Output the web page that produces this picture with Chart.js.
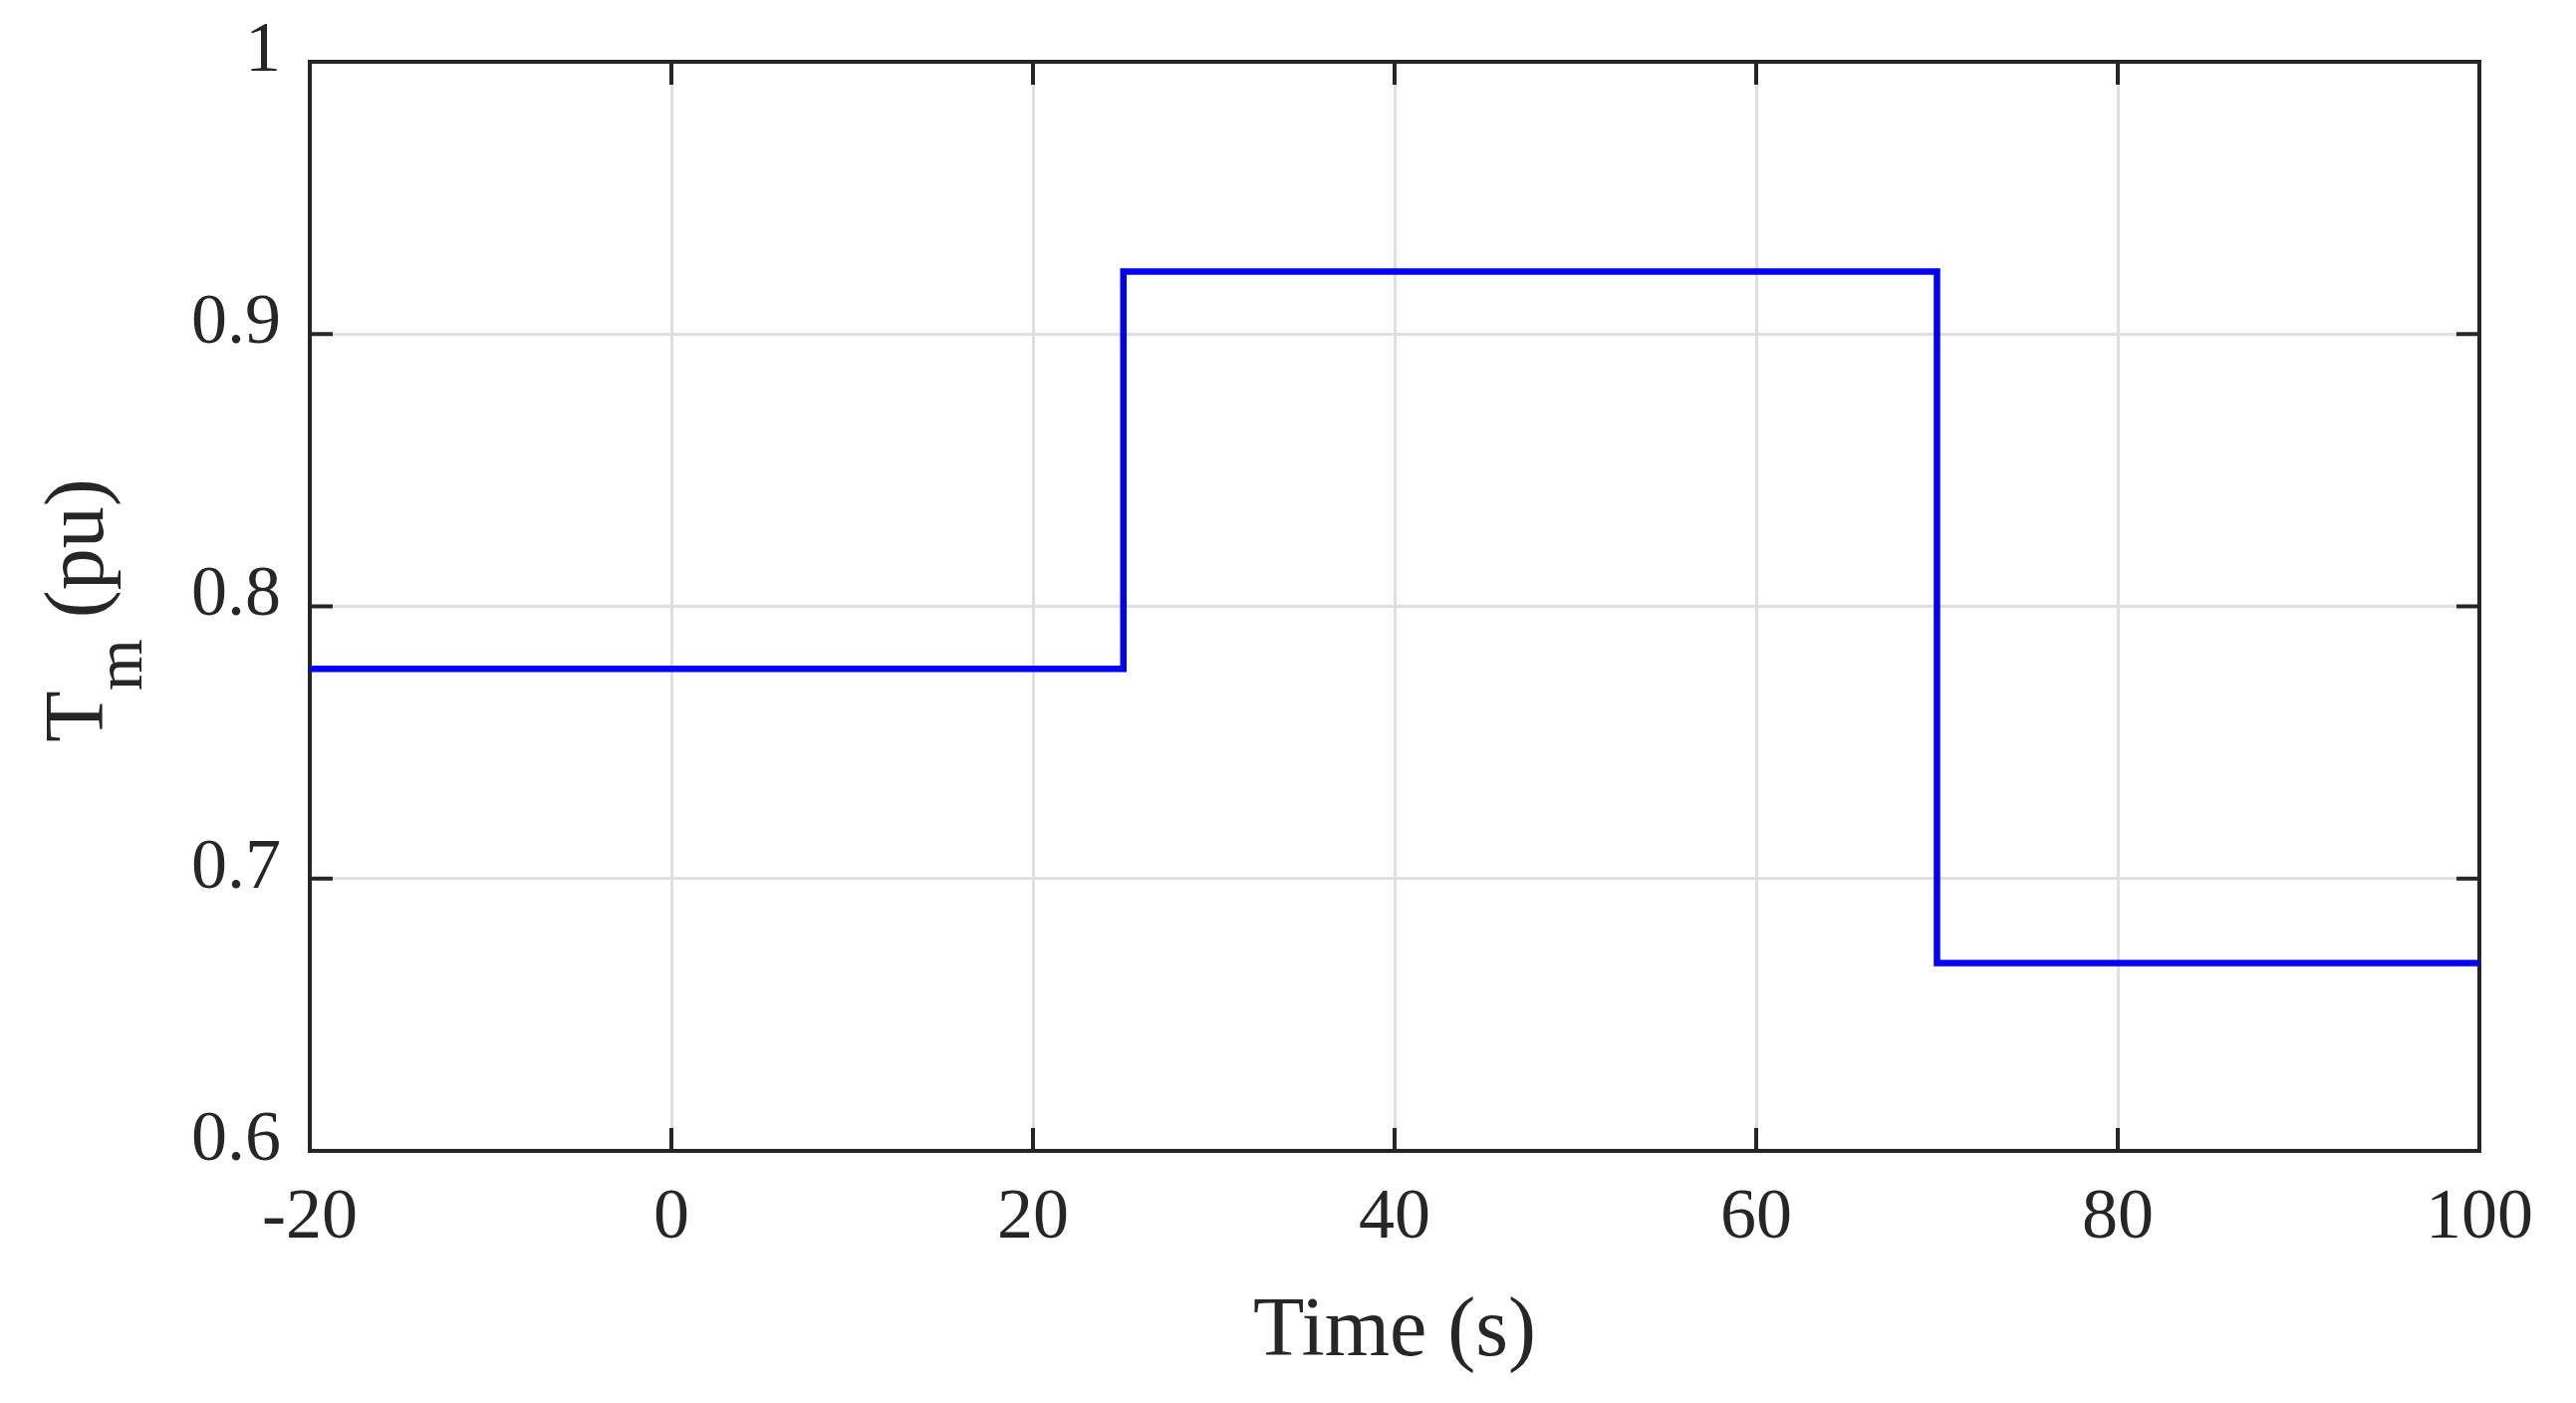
<!DOCTYPE html>
<html>
<head>
<meta charset="utf-8">
<script src="https://cdn.jsdelivr.net/npm/chart.js@4.4.1/dist/chart.umd.min.js"></script>
<style>
    body { margin: 0; background: #ffffff; }
    canvas { display: block; }
</style>
</head>
<body>
<canvas id="myChart" width="2586" height="1408"></canvas>
<script>
// step signal: value holds from each time until the next one
const times = [-20, 25, 70, 100];
const torque = [0.777, 0.923, 0.669, 0.669];

const xTicks = [-20, 0, 20, 40, 60, 80, 100];
const yTicks = [0.6, 0.7, 0.8, 0.9, 1];

const axisColor = "#262626";
const gridColor = "#dfdfdf";
const fontName = "'Liberation Serif', 'DejaVu Serif', serif";

// box round the plot plus the inward tick marks
const boxPlugin = {
    id: 'box',
    beforeDatasetsDraw(chart) {
        const ctx = chart.ctx;
        const a = chart.chartArea;
        const xs = chart.scales.x;
        const ys = chart.scales.y;
        const len = 23;
        ctx.save();
        ctx.strokeStyle = axisColor;
        ctx.lineWidth = 4;
        ctx.beginPath();
        yTicks.forEach(v => {
            let p = ys.getPixelForValue(v);
            ctx.moveTo(a.left, p);
            ctx.lineTo(a.left + len, p);
            ctx.moveTo(a.right, p);
            ctx.lineTo(a.right - len, p);
        });
        xTicks.forEach(v => {
            let p = xs.getPixelForValue(v);
            ctx.moveTo(p, a.bottom);
            ctx.lineTo(p, a.bottom - len);
            ctx.moveTo(p, a.top);
            ctx.lineTo(p, a.top + len);
        });
        ctx.stroke();
        ctx.strokeRect(a.left, a.top, a.right - a.left, a.bottom - a.top);
        ctx.restore();
    },
    afterDraw(chart) {
        // y title with subscript: T_m (pu)
        const ctx = chart.ctx;
        const a = chart.chartArea;
        const big = "84px " + fontName;
        const small = "67px " + fontName;
        ctx.save();
        ctx.fillStyle = axisColor;
        ctx.textBaseline = 'alphabetic';
        ctx.textAlign = 'left';
        ctx.font = big;
        let wT = ctx.measureText("T").width;
        let wRest = ctx.measureText(" (pu)").width;
        ctx.font = small;
        let wM = ctx.measureText("m").width;
        let total = wT + wM + wRest;
        ctx.translate(103, (a.top + a.bottom) / 2 + 4);
        ctx.rotate(-Math.PI / 2);
        let x = -total / 2;
        ctx.font = big;
        ctx.fillText("T", x, 0);
        x += wT;
        ctx.font = small;
        ctx.fillText("m", x, 39);
        x += wM;
        ctx.font = big;
        ctx.fillText(" (pu)", x, 0);
        ctx.restore();
    }
};

new Chart("myChart", {
    type: "line",
    data: {
        datasets: [{
            data: times.map((t, i) => ({ x: t, y: torque[i] })),
            borderColor: "#0000ff",
            borderWidth: 6.5,
            stepped: 'before',
            pointRadius: 0,
            fill: false
        }]
    },
    options: {
        responsive: false,
        animation: false,
        devicePixelRatio: 1,
        layout: {
            padding: { left: 0, top: 62, right: 97, bottom: 0 }
        },
        plugins: {
            legend: { display: false },
            tooltip: { enabled: false }
        },
        scales: {
            x: {
                type: 'linear',
                min: -20,
                max: 100,
                afterFit: (scale) => {
                    scale.height = 253;
                    scale.paddingLeft = 0;
                    scale.paddingRight = 0;
                },
                afterBuildTicks: (scale) => { scale.ticks = xTicks.map(v => ({ value: v })); },
                border: { display: false },
                grid: { color: gridColor, lineWidth: 3, drawTicks: false },
                ticks: {
                    color: axisColor,
                    font: { family: fontName, size: 72 },
                    padding: 25,
                    maxRotation: 0,
                    autoSkip: false,
                    callback: v => String(v)
                },
                title: {
                    display: true,
                    text: "Time (s)",
                    color: axisColor,
                    font: { family: fontName, size: 84 },
                    padding: { top: 0, bottom: 20 }
                }
            },
            y: {
                min: 0.6,
                max: 1,
                afterFit: (scale) => {
                    scale.width = 311;
                    scale.paddingTop = 0;
                    scale.paddingBottom = 0;
                },
                afterBuildTicks: (scale) => { scale.ticks = yTicks.map(v => ({ value: v })); },
                border: { display: false },
                grid: { color: gridColor, lineWidth: 3, drawTicks: false },
                ticks: {
                    color: axisColor,
                    font: { family: fontName, size: 72 },
                    padding: 29,
                    labelOffset: -10,
                    autoSkip: false,
                    callback: v => String(+v.toFixed(1))
                }
            }
        }
    },
    plugins: [boxPlugin]
});
</script>
</body>
</html>
